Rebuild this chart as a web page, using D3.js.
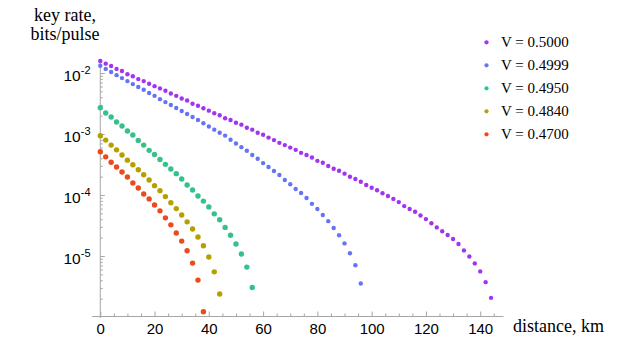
<!DOCTYPE html>
<html>
<head>
<meta charset="utf-8">
<script src="https://cdn.jsdelivr.net/npm/d3@7"></script>
<style>
  body { margin: 0; background: #fff; }
  svg { display: block; }
</style>
</head>
<body>
<svg id="chart"></svg>
<script>
var width = 623;
var height = 339;

// distance along the fibre, km (points every 2 km)
var distanceKm = [0,2,4,6,8,10,12,14,16,18,20,22,24,26,28,30,32,34,36,38,40,42,44,46,48,50,
  52,54,56,58,60,62,64,66,68,70,72,74,76,78,80,82,84,86,88,90,92,94,96,98,100,102,104,106,
  108,110,112,114,116,118,120,122,124,126,128,130,132,134,136,138,140,142,144];

// key rate, bits/pulse, one array per visibility
var rateV5000 = [1.60e-2,1.45e-2,1.33e-2,1.19e-2,1.10e-2,9.7e-3,9.0e-3,8.1e-3,7.5e-3,6.8e-3,
  6.2e-3,5.7e-3,5.2e-3,4.7e-3,4.3e-3,3.9e-3,3.6e-3,3.2e-3,2.96e-3,2.69e-3,2.46e-3,2.23e-3,
  2.07e-3,1.85e-3,1.73e-3,1.56e-3,1.45e-3,1.29e-3,1.20e-3,1.07e-3,9.9e-4,8.9e-4,8.1e-4,7.3e-4,
  6.7e-4,6.1e-4,5.6e-4,5.0e-4,4.6e-4,4.2e-4,3.7e-4,3.45e-4,3.05e-4,2.75e-4,2.55e-4,2.28e-4,
  2.03e-4,1.86e-4,1.68e-4,1.49e-4,1.34e-4,1.22e-4,1.09e-4,9.8e-5,8.8e-5,7.8e-5,6.7e-5,6.0e-5,
  5.4e-5,4.7e-5,4.1e-5,3.5e-5,3.0e-5,2.6e-5,2.25e-5,1.94e-5,1.60e-5,1.26e-5,1.0e-5,7.7e-6,
  5.7e-6,3.8e-6,2.1e-6];
var rateV4999 = [1.34e-2,1.19e-2,1.06e-2,9.4e-3,8.4e-3,7.5e-3,6.7e-3,6.0e-3,5.4e-3,4.8e-3,
  4.3e-3,3.8e-3,3.4e-3,3.05e-3,2.72e-3,2.43e-3,2.17e-3,1.94e-3,1.73e-3,1.53e-3,1.35e-3,1.20e-3,
  1.07e-3,9.6e-4,8.2e-4,7.1e-4,6.2e-4,5.4e-4,4.6e-4,4.0e-4,3.4e-4,2.93e-4,2.52e-4,2.17e-4,
  1.80e-4,1.53e-4,1.28e-4,1.10e-4,9.1e-5,7.3e-5,6.0e-5,4.8e-5,3.8e-5,2.93e-5,2.23e-5,1.64e-5,
  1.13e-5,7.2e-6,3.6e-6];
var rateV4950 = [2.75e-3,2.25e-3,1.94e-3,1.60e-3,1.38e-3,1.14e-3,9.8e-4,8.0e-4,6.7e-4,5.5e-4,
  4.7e-4,3.9e-4,3.24e-4,2.72e-4,2.28e-4,1.86e-4,1.49e-4,1.23e-4,9.8e-5,8.1e-5,6.5e-5,5.0e-5,
  4.0e-5,3.0e-5,2.23e-5,1.60e-5,1.10e-5,6.7e-6,3.1e-6];
var rateV4840 = [9.55e-4,8.1e-4,6.7e-4,5.6e-4,4.6e-4,3.8e-4,3.2e-4,2.65e-4,2.19e-4,1.80e-4,
  1.45e-4,1.20e-4,9.6e-5,7.6e-5,6.1e-5,4.8e-5,3.7e-5,2.82e-5,2.09e-5,1.50e-5,9.8e-6,5.6e-6,2.43e-6];
var rateV4700 = [5.2e-4,4.3e-4,3.5e-4,2.93e-4,2.43e-4,2.01e-4,1.60e-4,1.33e-4,1.06e-4,8.8e-5,
  7.0e-5,5.6e-5,4.3e-5,3.3e-5,2.43e-5,1.79e-5,1.24e-5,7.8e-6,4.1e-6,1.24e-6];

var seriesLabels = ["V = 0.5000", "V = 0.4999", "V = 0.4950", "V = 0.4840", "V = 0.4700"];
var seriesRates = [rateV5000, rateV4999, rateV4950, rateV4840, rateV4700];
var seriesColors = ["#a233f2", "#6574f6", "#34c28a", "#b5a000", "#ec4a1c"];
var seriesRadius = [2.2, 2.2, 2.7, 2.7, 2.7];

var xTicks = [0, 20, 40, 60, 80, 100, 120, 140];
var yTickExps = [-2, -3, -4, -5];

var x = d3.scaleLinear()
  .domain([-3.2, 148.4])
  .range([91.6, 503]);

var y = d3.scaleLog()
  .domain([1e-6, 1e-2])
  .range([317.5, 73.5]);

var axisColor = "#a6a6a6";
var yTop = 62, yBottom = 316;

var svg = d3.select("#chart")
  .attr("width", width)
  .attr("height", height)
  .style("font-family", "'Liberation Sans', Arial, sans-serif");

// x axis, ticks pointing up into the plot
var xMinor = d3.range(0, 146, 5).filter(function (d) { return d % 20 != 0; });
var gx = svg.append("g").attr("transform", "translate(0," + yBottom + ")");
gx.call(d3.axisBottom(x).tickValues(xTicks).tickSizeInner(-4.5).tickSizeOuter(0).tickPadding(7));
gx.append("g").call(d3.axisBottom(x).tickValues(xMinor).tickSizeInner(-2.5).tickSizeOuter(0).tickFormat(""))
  .select(".domain").remove();
gx.selectAll("path.domain").attr("stroke", axisColor);
gx.selectAll(".tick line").attr("stroke", axisColor);
gx.selectAll(".tick text").attr("fill", "#000").style("font-size", "15px");

// y axis, ticks pointing right
var yMinor = [];
[1e-6, 1e-5, 1e-4, 1e-3, 1e-2].forEach(function (dec) {
  for (var m = 2; m <= 9; m++) {
    var v = dec * m;
    if (y(v) >= yTop && y(v) <= yBottom) yMinor.push(v);
  }
});
var gy = svg.append("g").attr("transform", "translate(" + x(0) + ",0)");
gy.append("line")
  .attr("x1", 0).attr("x2", 0)
  .attr("y1", yTop).attr("y2", yBottom + 2)
  .attr("stroke", axisColor);
gy.selectAll("line.major")
  .data(yTickExps)
  .enter().append("line")
  .attr("class", "major")
  .attr("x1", 0).attr("x2", 4.5)
  .attr("y1", function (d) { return y(Math.pow(10, d)); })
  .attr("y2", function (d) { return y(Math.pow(10, d)); })
  .attr("stroke", axisColor);
gy.selectAll("line.minor")
  .data(yMinor)
  .enter().append("line")
  .attr("class", "minor")
  .attr("x1", 0).attr("x2", 2.5)
  .attr("y1", function (d) { return y(d); })
  .attr("y2", function (d) { return y(d); })
  .attr("stroke", axisColor);

var ylab = svg.append("g").selectAll("text")
  .data(yTickExps)
  .enter().append("text")
  .attr("x", 90.5)
  .attr("y", function (d) { return y(Math.pow(10, d)) + 7.5; })
  .attr("text-anchor", "end")
  .style("font-size", "15.5px")
  .attr("fill", "#000");
ylab.append("tspan").text("10");
ylab.append("tspan")
  .attr("dy", -7)
  .style("font-size", "11px")
  .text(function (d) { return "-" + (-d); });

// axis titles
var serif = "'Liberation Serif', 'Times New Roman', serif";
svg.append("text")
  .attr("x", 65).attr("y", 21)
  .attr("text-anchor", "middle")
  .style("font-family", serif).style("font-size", "18px")
  .text("key rate,");
svg.append("text")
  .attr("x", 65).attr("y", 40)
  .attr("text-anchor", "middle")
  .style("font-family", serif).style("font-size", "18px")
  .text("bits/pulse");
svg.append("text")
  .attr("x", 513).attr("y", 332)
  .style("font-family", serif).style("font-size", "18px")
  .text("distance, km");

// points
seriesRates.forEach(function (rates, s) {
  svg.append("g")
    .selectAll("circle")
    .data(rates)
    .enter().append("circle")
    .attr("cx", function (d, i) { return x(distanceKm[i]); })
    .attr("cy", function (d) { return y(d); })
    .attr("r", seriesRadius[s])
    .attr("fill", seriesColors[s]);
});

// legend
var legend = svg.append("g").selectAll("g")
  .data(seriesLabels)
  .enter().append("g")
  .attr("transform", function (d, i) { return "translate(0," + (42.3 + i * 23) + ")"; });
legend.append("circle")
  .attr("cx", 486.5).attr("cy", 0).attr("r", 2.1)
  .attr("fill", function (d, i) { return seriesColors[i]; });
legend.append("text")
  .attr("x", 501).attr("y", 5)
  .style("font-family", serif).style("font-size", "15px")
  .text(function (d) { return d; });
</script>
</body>
</html>
